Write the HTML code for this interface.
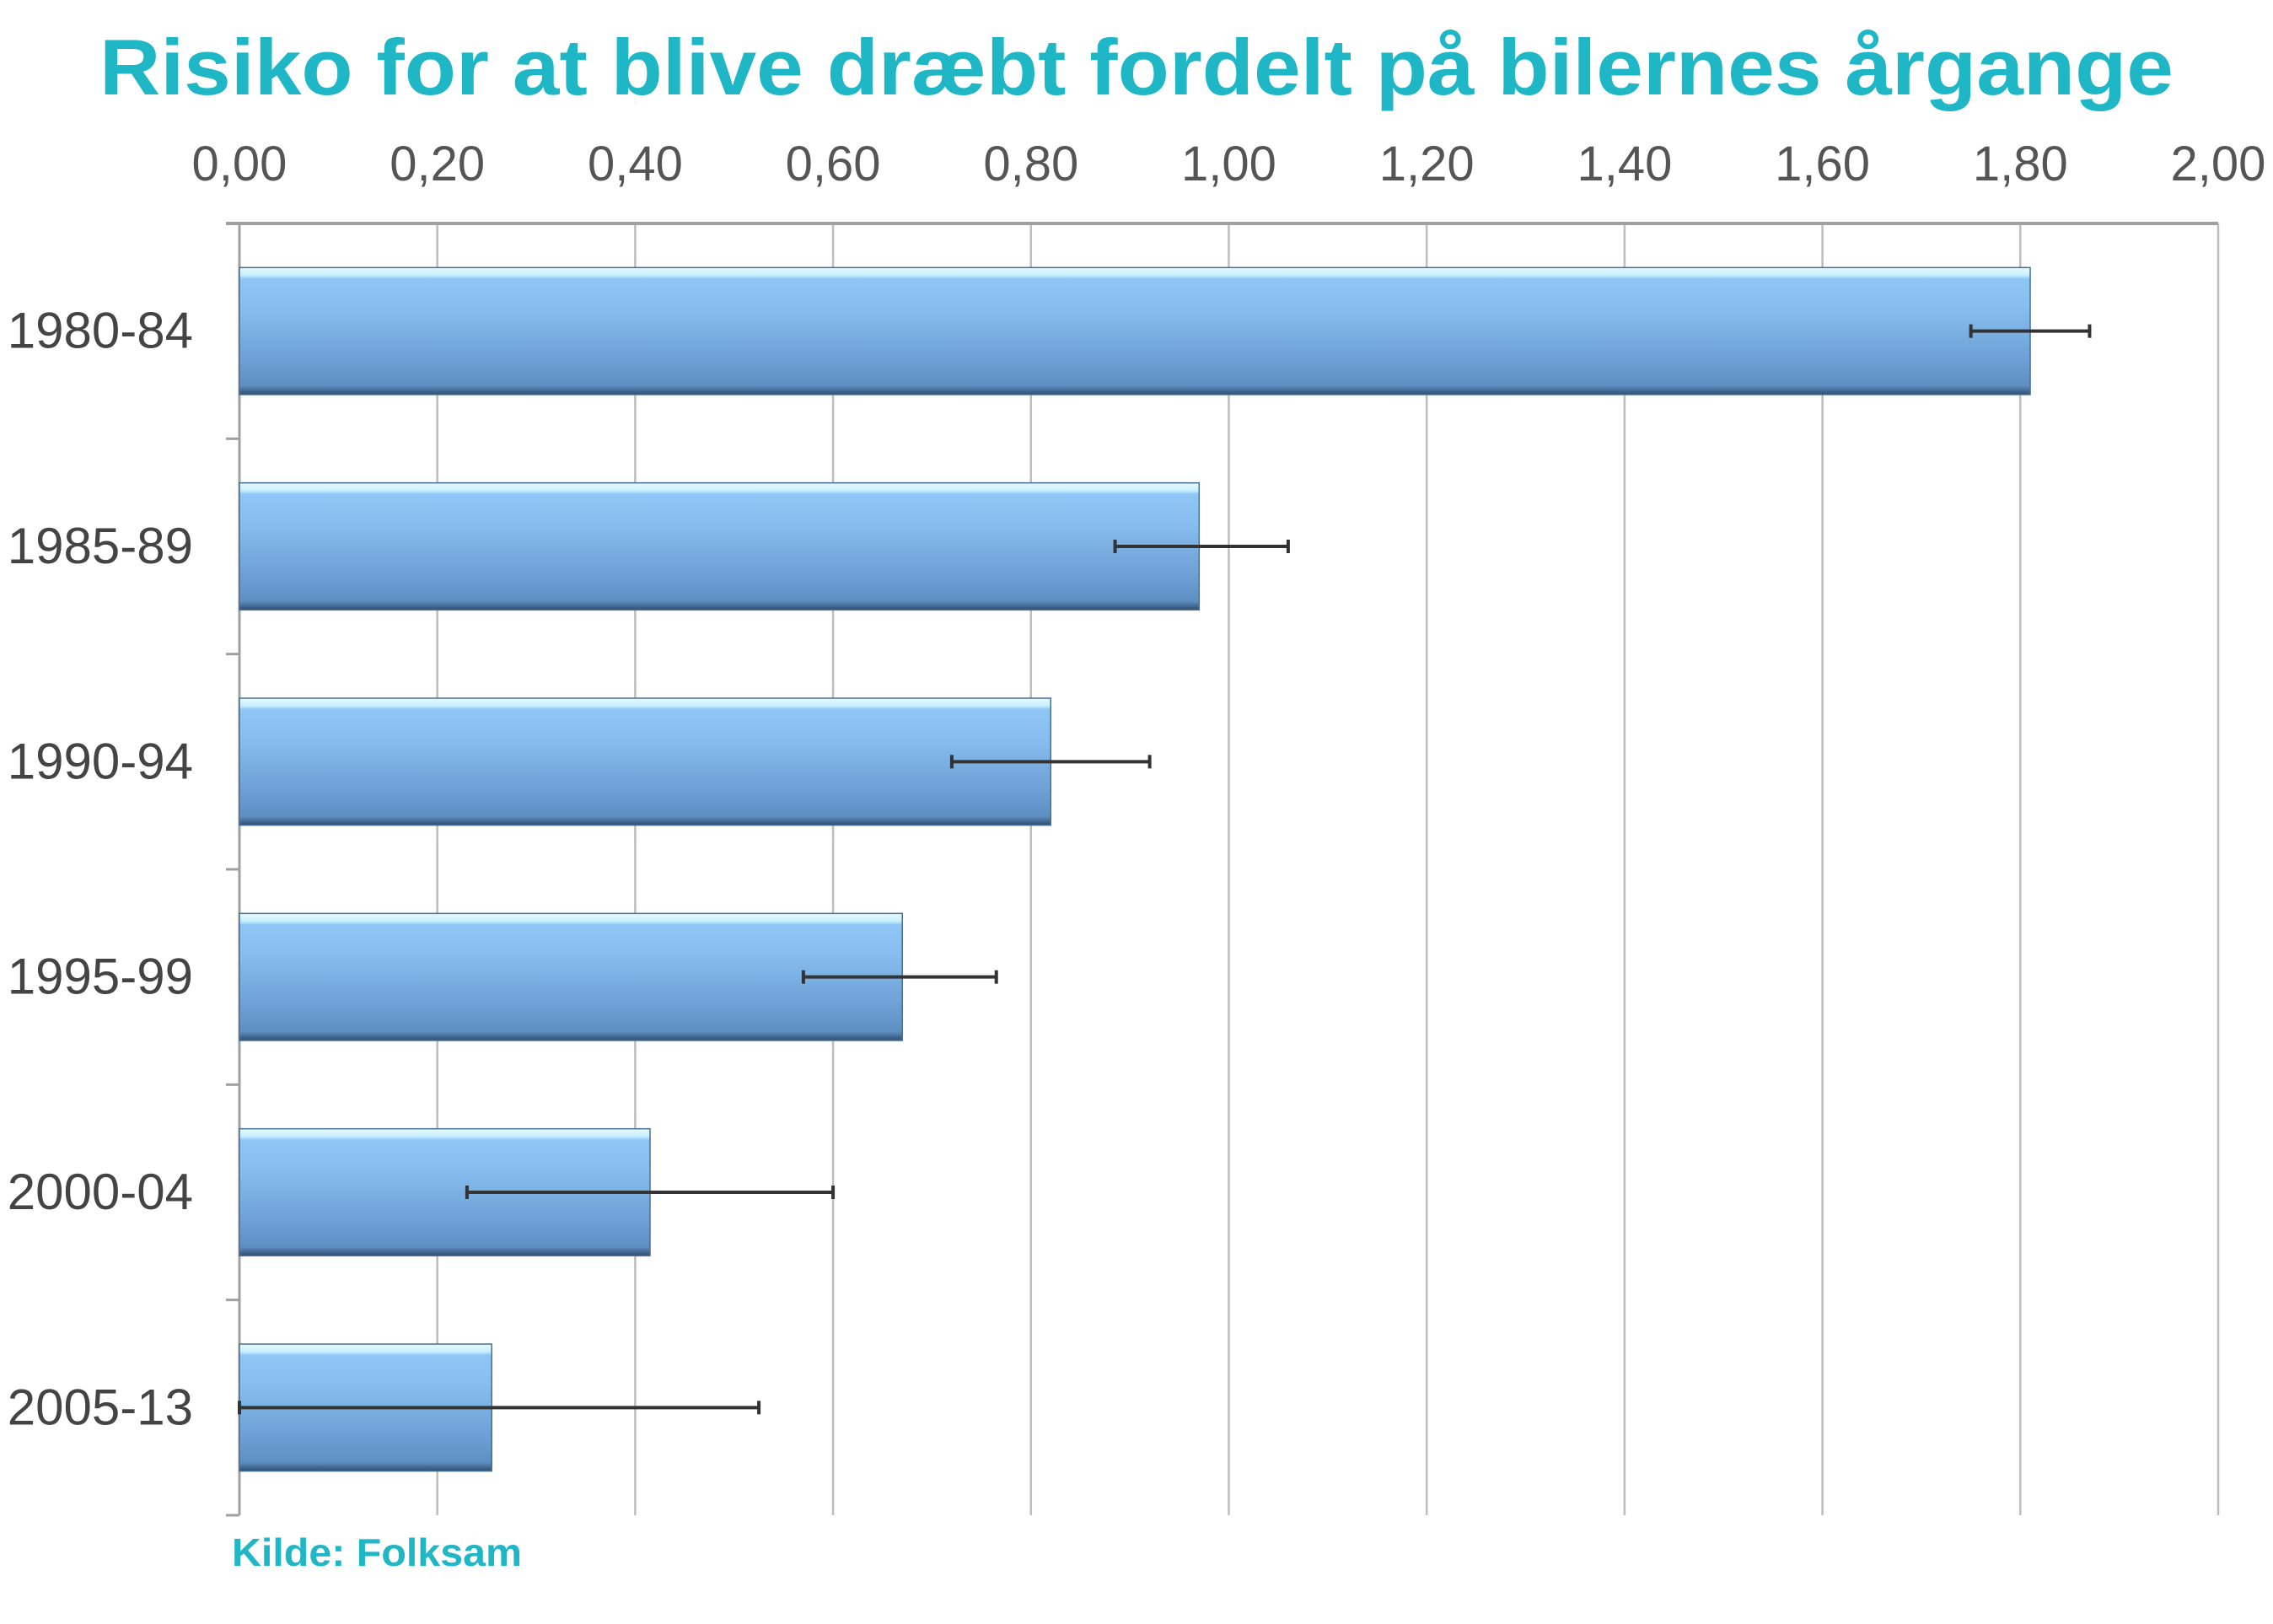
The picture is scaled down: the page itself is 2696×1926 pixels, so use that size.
<!DOCTYPE html>
<html><head><meta charset="utf-8"><style>
html,body{margin:0;padding:0;background:#fff;width:2696px;height:1926px;overflow:hidden}
svg{display:block}
</style></head><body>
<svg id="chart" width="2696" height="1926" viewBox="0 0 2696 1926" xmlns="http://www.w3.org/2000/svg">
<defs>
<linearGradient id="barGrad" x1="0" y1="0" x2="0" y2="1">
<stop offset="0" stop-color="#e8fbff"/>
<stop offset="0.06" stop-color="#c8efff"/>
<stop offset="0.09" stop-color="#8ec6f6"/>
<stop offset="0.3" stop-color="#88bff0"/>
<stop offset="0.7" stop-color="#6fa2d6"/>
<stop offset="0.93" stop-color="#5d8fc2"/>
<stop offset="1" stop-color="#2f4d6e"/>
</linearGradient>
</defs>
<text x="1348" y="112" text-anchor="middle" font-family="Liberation Sans, sans-serif" font-weight="bold" font-size="94" fill="#1fb6c6" textLength="2460" lengthAdjust="spacingAndGlyphs">Risiko for at blive dræbt fordelt på bilernes årgange</text>
<g id="grid"></g>
<g id="bars"></g>
<g id="labels"></g>
<text x="275" y="1857" font-family="Liberation Sans, sans-serif" font-weight="bold" font-size="46" fill="#1fb6c6" textLength="344" lengthAdjust="spacingAndGlyphs">Kilde: Folksam</text>
</svg>
<script>
const categories = ["1980-84","1985-89","1990-94","1995-99","2000-04","2005-13"];
const values = [1.81, 0.97, 0.82, 0.67, 0.415, 0.255];
const errLow = [1.75, 0.885, 0.72, 0.57, 0.23, 0.0];
const errHigh = [1.87, 1.06, 0.92, 0.765, 0.60, 0.525];
const ticks = [0,0.2,0.4,0.6,0.8,1.0,1.2,1.4,1.6,1.8,2.0];
const tickLabels = ["0,00","0,20","0,40","0,60","0,80","1,00","1,20","1,40","1,60","1,80","2,00"];

const NS = "http://www.w3.org/2000/svg";
const X0 = 284, X1 = 2631, Y0 = 265, Y1 = 1797;
const xs = v => X0 + (v / 2.0) * (X1 - X0);
const band = (Y1 - Y0) / categories.length;
const yc = i => Y0 + band * (i + 0.5);
const barH = band * 0.59;
function mk(tag, attrs, parent){const e=document.createElementNS(NS,tag);for(const k in attrs)e.setAttribute(k,attrs[k]);parent.appendChild(e);return e;}
const grid = document.getElementById('grid'), bars = document.getElementById('bars'), labels = document.getElementById('labels');

ticks.forEach((t,i)=>{
  const x = xs(t);
  const l = mk('line',{x1:x,y1:Y0,x2:x,y2:Y1,stroke:'#bdbdbd','stroke-width':2.5},grid);
  
  
  const tx = mk('text',{x:x,y:214,'text-anchor':'middle','font-family':'Liberation Sans, sans-serif','font-size':58,fill:'#555'},labels);
  tx.textContent = tickLabels[i];
  
  
});
const ax = mk('line',{x1:268,y1:Y0,x2:X1,y2:Y0,stroke:'#a0a0a0','stroke-width':4},grid);


const ay = mk('line',{x1:X0,y1:Y0,x2:X0,y2:Y1,stroke:'#a0a0a0','stroke-width':3},grid);


for(let i=0;i<=categories.length;i++){
  const y = Y0 + band*i;
  const tk = mk('line',{x1:268,y1:y,x2:X0,y2:y,stroke:'#a0a0a0','stroke-width':3},grid);
  
  
}

categories.forEach((c,i)=>{
  const y = yc(i);
  const r = mk('rect',{x:X0,y:y-barH/2,width:xs(values[i])-X0,height:barH,fill:'url(#barGrad)',stroke:'#4a6f96','stroke-width':1.5},bars);
  
  
  const e = mk('line',{x1:xs(errLow[i]),y1:y,x2:xs(errHigh[i]),y2:y,stroke:'#333','stroke-width':4},bars);
  
  
  [errLow[i],errHigh[i]].forEach(v=>{
    const cap = mk('line',{x1:xs(v),y1:y-8,x2:xs(v),y2:y+8,stroke:'#333','stroke-width':4},bars);
    
    
  });
  const t = mk('text',{x:229,y:y+20,'text-anchor':'end','font-family':'Liberation Sans, sans-serif','font-size':60,fill:'#444'},labels);
  t.textContent = c;
  
  
});
</script>
</body></html>
